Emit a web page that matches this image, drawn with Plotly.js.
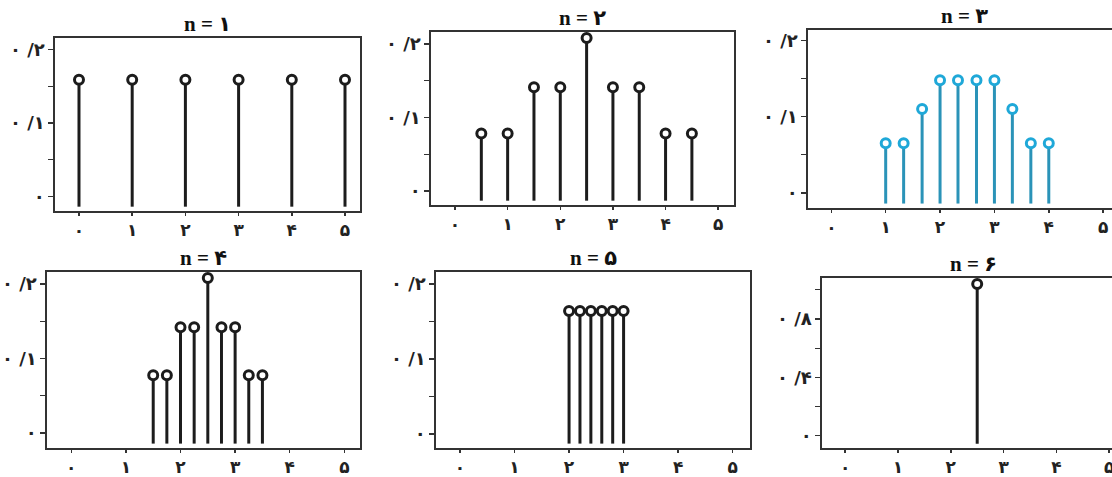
<!DOCTYPE html>
<html>
<head>
<meta charset="utf-8">
<script src="https://cdn.plot.ly/plotly-3.0.1.min.js"></script>
<style>
html,body{margin:0;padding:0;overflow:hidden;background:#fff;width:1112px;height:477px;}
#chart{width:1130px;height:477px;}
</style>
</head>
<body>
<div id="chart"></div>
<script>
// ---- data ----
const titles = ["n = ۱", "n = ۲", "n = ۳", "n = ۴", "n = ۵", "n = ۶"];
const xTickVals = [0, 1, 2, 3, 4, 5];
const xTickText = ["۰", "۱", "۲", "۳", "۴", "۵"];
const yTickValsA = [0, 0.1, 0.2];
const yTickTextA = ["۰", "۰ /۱", "۰ /۲"];
const yTickValsB = [0, 0.4, 0.8];
const yTickTextB = ["۰", "۰ /۴", "۰ /۸"];

const x1 = [0, 1, 2, 3, 4, 5];
const y1 = [0.159, 0.159, 0.159, 0.159, 0.159, 0.159];
const x2 = [0.5, 1, 1.5, 2, 2.5, 3, 3.5, 4, 4.5];
const y2 = [0.078, 0.078, 0.141, 0.141, 0.208, 0.141, 0.141, 0.078, 0.078];
const x3 = [1, 1.33, 1.67, 2, 2.33, 2.67, 3, 3.33, 3.67, 4];
const y3 = [0.065, 0.065, 0.110, 0.148, 0.148, 0.148, 0.148, 0.110, 0.065, 0.065];
const x4 = [1.5, 1.75, 2, 2.25, 2.5, 2.75, 3, 3.25, 3.5];
const y4 = [0.0775, 0.0775, 0.142, 0.142, 0.208, 0.142, 0.142, 0.0775, 0.0775];
const x5 = [2, 2.2, 2.4, 2.6, 2.8, 3];
const y5 = [0.164, 0.164, 0.164, 0.164, 0.164, 0.164];
const x6 = [2.5];
const y6 = [1.04];

// ---- layout geometry (pixels) ----
const W = 1130, H = 477;
const panels = [
  {xs:x1, ys:y1, px:[55,360],  py:[38,211],  xr:[-0.451,5.282], yr:[-0.020,0.216], yt:'A', color:'#1c1c1c', mcolor:'#1c1c1c'},
  {xs:x2, ys:y2, px:[431,734], py:[32,205],  xr:[-0.456,5.30],  yr:[-0.019,0.216], yt:'A', color:'#1c1c1c', mcolor:'#1c1c1c'},
  {xs:x3, ys:y3, px:[808,1120],py:[30,208],  xr:[-0.429,5.31],  yr:[-0.020,0.214], yt:'A', color:'#2a93b8', mcolor:'#1fa8d8'},
  {xs:x4, ys:y4, px:[47,360],  py:[272,448], xr:[-0.445,5.287], yr:[-0.020,0.216], yt:'A', color:'#1c1c1c', mcolor:'#1c1c1c'},
  {xs:x5, ys:y5, px:[436,750], py:[272,448], xr:[-0.44,5.318],  yr:[-0.019,0.216], yt:'A', color:'#1c1c1c', mcolor:'#1c1c1c'},
  {xs:x6, ys:y6, px:[822,1125],py:[278,448], xr:[-0.44,5.30],   yr:[-0.085,1.081], yt:'B', color:'#1c1c1c', mcolor:'#1c1c1c'}
];

const data = [];
const layout = {
  width: W, height: H,
  margin: {l:0, r:0, t:0, b:0},
  paper_bgcolor: '#fff', plot_bgcolor: '#fff',
  showlegend: false,
  annotations: []
};

const xTickFont = {family: 'DejaVu Sans', size: 17, color: '#222', weight: 'bold'};
const yTickFont = {family: 'DejaVu Sans', size: 18, color: '#222', weight: 'bold'};

panels.forEach((p, i) => {
  const k = i + 1;
  const xa = 'x' + (k === 1 ? '' : k), ya = 'y' + (k === 1 ? '' : k);
  const base = p.yr[0] + 0.025 * (p.yr[1] - p.yr[0]);
  const sx = [], sy = [];
  p.xs.forEach((xv, j) => { sx.push(xv, xv, null); sy.push(base, p.ys[j], null); });
  data.push({type:'scatter', mode:'lines', x:sx, y:sy, xaxis:xa, yaxis:ya,
    line:{color:p.color, width:3}, hoverinfo:'skip'});
  data.push({type:'scatter', mode:'markers', x:p.xs, y:p.ys, xaxis:xa, yaxis:ya,
    marker:{symbol:'circle', size:9, color:'#fff', line:{color:p.mcolor, width:3}}, cliponaxis:false});

  const isB = p.yt === 'B';
  layout['xaxis' + (k === 1 ? '' : k)] = {
    domain: [p.px[0] / W, p.px[1] / W], anchor: ya, range: p.xr,
    tickmode: 'array', tickvals: xTickVals, ticktext: xTickText,
    ticks: 'outside', ticklen: 3, tickwidth: 1.5, tickcolor: '#333',
    showline: true, mirror: true, linecolor: '#333', linewidth: 1.6,
    showgrid: false, zeroline: false, tickfont: xTickFont, fixedrange: true
  };
  layout['yaxis' + (k === 1 ? '' : k)] = {
    domain: [1 - p.py[1] / H, 1 - p.py[0] / H], anchor: xa, range: p.yr,
    tickmode: 'array', tickvals: isB ? yTickValsB : yTickValsA, ticktext: isB ? yTickTextB : yTickTextA,
    ticks: 'outside', ticklen: 5, tickwidth: 1.5, tickcolor: '#333',
    minor: {dtick: isB ? 0.2 : 0.05, tick0: 0, ticks: 'outside', ticklen: 5, tickwidth: 1.2, tickcolor: '#333', showgrid: false},
    showline: true, mirror: true, linecolor: '#333', linewidth: 1.6,
    showgrid: false, zeroline: false, tickfont: yTickFont, fixedrange: true
  };
  layout.annotations.push({
    text: titles[i], xref: xa + ' domain', yref: ya + ' domain', x: 0.5, y: 1,
    xanchor: 'center', yanchor: 'bottom', yshift: 0, showarrow: false,
    font: {family: 'Times New Roman, Liberation Serif, DejaVu Sans', size: 21, color: '#111', weight: 'bold'}
  });
});

Plotly.newPlot('chart', data, layout, {staticPlot: true, displayModeBar: false});
</script>
</body>
</html>
